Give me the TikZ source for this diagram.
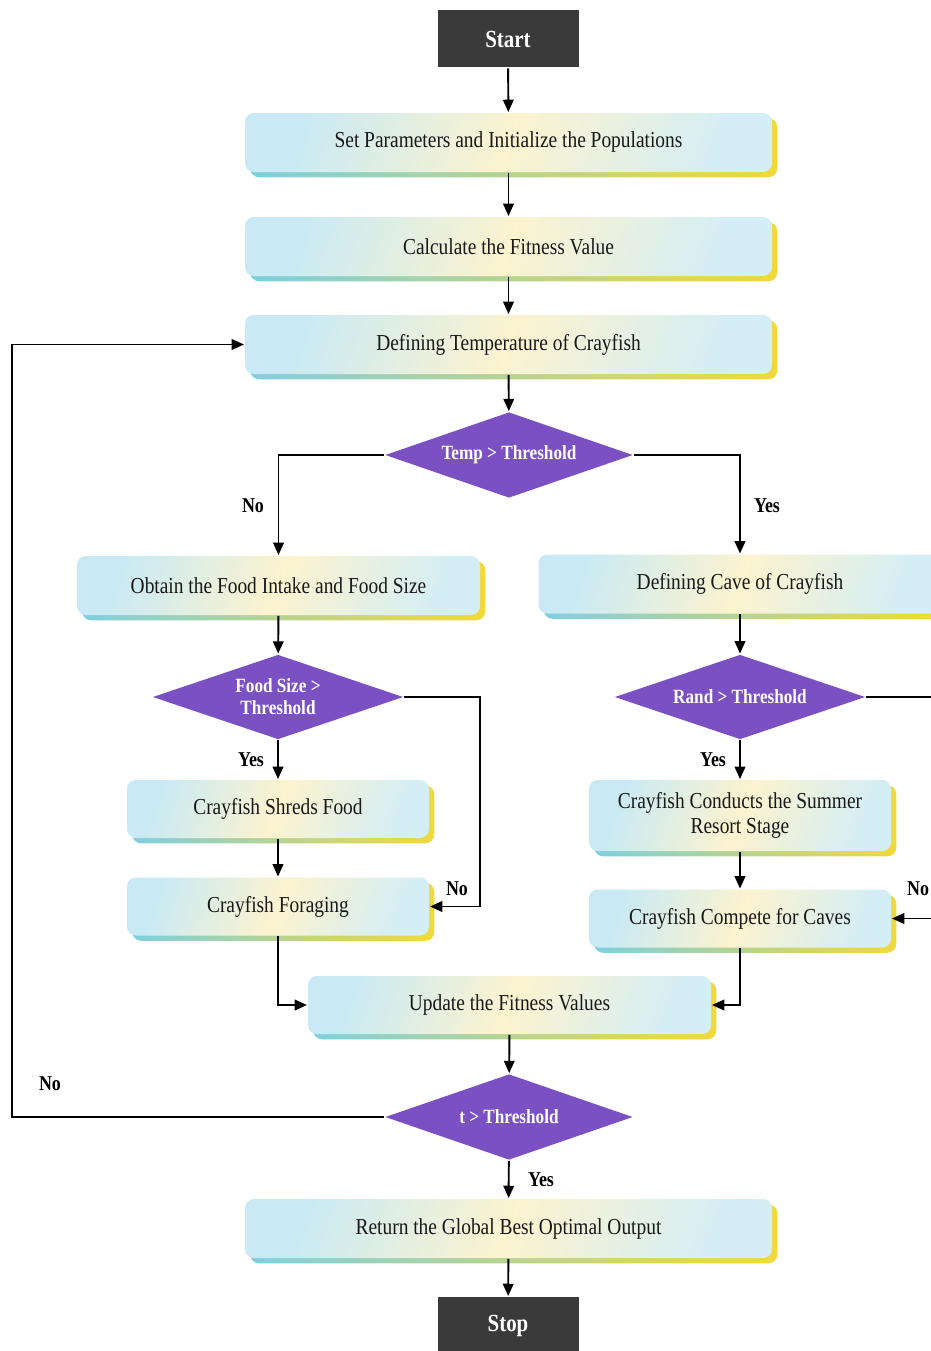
\documentclass[tikz,border=0pt]{standalone}
\usepackage{fontspec}
\setmainfont[FakeStretch=0.85]{Liberation Serif}
\usetikzlibrary{shapes.geometric,arrows.meta,shadows}
\definecolor{termgray}{HTML}{3A3A3A}
\definecolor{decpurple}{HTML}{7A50C2}
\definecolor{shadecyan}{HTML}{7FCFE0}
\definecolor{shadeyel}{HTML}{F2D83A}
\definecolor{boxblue}{HTML}{C9EAF4}
\definecolor{boxyel}{HTML}{FCF3CF}
\definecolor{boxlight}{HTML}{D4EEF5}

\begin{document}
\begin{tikzpicture}[
    line width=1.1pt,
    arr/.style={-{Triangle[length=7pt,width=6pt]}},
    term/.style={fill=termgray, text=white, font=\fontsize{14}{16}\selectfont\bfseries,
      minimum width=2.82cm, minimum height=1.14cm},
    proc/.style={rounded corners=5pt, minimum height=1.18cm, align=center,
      text=black!90, font=\fontsize{13}{14.5}\selectfont,
      left color=boxblue, right color=boxlight, middle color=boxyel, shading angle=70,
      general shadow={shadow xshift=3pt, shadow yshift=-3pt,
        left color=shadecyan, right color=shadeyel}},
    dec/.style={diamond, aspect=2.9, fill=decpurple, text=white, align=center, inner sep=0pt,
      font=\fontsize{11.5}{12.5}\selectfont\bfseries},
    lbl/.style={font=\fontsize{12}{14}\selectfont\bfseries}
  ]
  \useasboundingbox (0,0) rectangle (18.62,-27.02);

  \node[term] (start) at (10.16,-0.78) {Start};
  \node[proc, minimum width=10.54cm] (set) at (10.17,-2.85) {Set Parameters and Initialize the Populations};
  \node[proc, minimum width=10.54cm] (calc) at (10.17,-4.93) {Calculate the Fitness Value};
  \node[proc, minimum width=10.54cm] (temp) at (10.17,-6.89) {Defining Temperature of Crayfish};
  \node[dec, minimum width=4.96cm, minimum height=1.72cm] (dtemp) at (10.18,-9.10) {Temp > Threshold};

  % left branch
  \node[proc, minimum width=8.06cm] (food) at (5.57,-11.71) {Obtain the Food Intake and Food Size};
  \node[dec, minimum width=5.02cm, minimum height=1.70cm] (dfood) at (5.56,-13.94) {Food Size >\\Threshold};
  \node[proc, minimum width=6.04cm, minimum height=1.16cm] (shreds) at (5.56,-16.18) {Crayfish Shreds Food};
  \node[proc, minimum width=6.04cm, minimum height=1.16cm] (forage) at (5.56,-18.13) {Crayfish Foraging};

  % right branch
  \node[proc, minimum width=8.06cm] (cave) at (14.80,-11.68) {Defining Cave of Crayfish};
  \node[dec, minimum width=5.02cm, minimum height=1.70cm] (drand) at (14.80,-13.94) {Rand > Threshold};
  \node[proc, minimum width=6.04cm, minimum height=1.42cm] (summer) at (14.80,-16.31) {Crayfish Conducts the Summer\\Resort Stage};
  \node[proc, minimum width=6.04cm, minimum height=1.16cm] (compete) at (14.80,-18.37) {Crayfish Compete for Caves};

  \node[proc, minimum width=8.06cm, minimum height=1.16cm] (update) at (10.19,-20.10) {Update the Fitness Values};
  \node[dec, minimum width=4.96cm, minimum height=1.72cm] (dt) at (10.18,-22.34) {t > Threshold};
  \node[proc, minimum width=10.54cm] (ret) at (10.17,-24.57) {Return the Global Best Optimal Output};
  \node[term] (stop) at (10.16,-26.51) {Stop};

  \coordinate (lloop) at (0.24,-22.34);
  \coordinate (rloop) at (19.30,-13.94);

  \draw[arr] (start) -- (set);
  \draw[arr] (set) -- (calc);
  \draw[arr] (calc) -- (temp);
  \draw[arr] (temp) -- (dtemp);
  \draw[arr] (dtemp.west) -| (food.north);
  \draw[arr] (dtemp.east) -| (cave.north);
  \draw[arr] (food) -- (dfood);
  \draw[arr] (dfood) -- (shreds);
  \draw[arr] (shreds) -- (forage);
  \draw[arr] (dfood.east) -- ++(1.51,0) |- (forage.east);
  \draw[arr] (cave) -- (drand);
  \draw[arr] (drand) -- (summer);
  \draw[arr] (summer) -- (compete);
  \draw[arr] (drand.east) -- (rloop) |- (compete.east);
  \draw[arr] (forage.south) |- (update.west);
  \draw[arr] (compete.south) |- (update.east);
  \draw[arr] (update) -- (dt);
  \draw[arr] (dt.west) -- (lloop) |- (temp.west);
  \draw[arr] (dt) -- (ret);
  \draw[arr] (ret) -- (stop);

  \node[lbl] at (5.06,-10.12) {No};
  \node[lbl] at (15.34,-10.12) {Yes};
  \node[lbl] at (5.02,-15.20) {Yes};
  \node[lbl] at (9.14,-17.78) {No};
  \node[lbl] at (14.26,-15.20) {Yes};
  \node[lbl] at (18.36,-17.78) {No};
  \node[lbl] at (1.00,-21.68) {No};
  \node[lbl] at (10.82,-23.60) {Yes};
\end{tikzpicture}
\end{document}
